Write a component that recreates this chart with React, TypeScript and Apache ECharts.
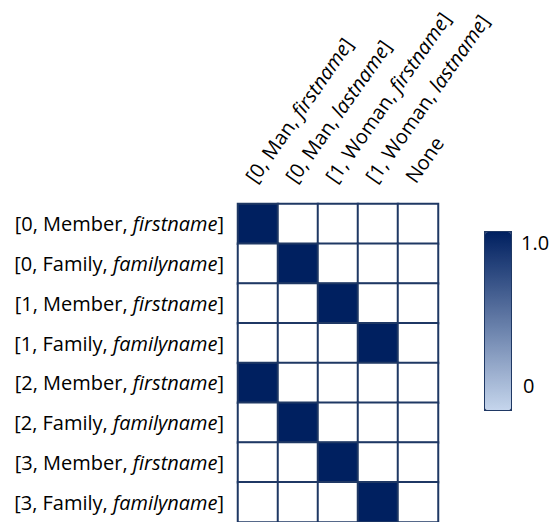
import React, { useEffect, useRef } from "react";
import * as echarts from "echarts";

const rowLabels = [
  "[0, Member, firstname]",
  "[0, Family, familyname]",
  "[1, Member, firstname]",
  "[1, Family, familyname]",
  "[2, Member, firstname]",
  "[2, Family, familyname]",
  "[3, Member, firstname]",
  "[3, Family, familyname]",
];
const colLabels = [
  "[0, Man, firstname]",
  "[0, Man, lastname]",
  "[1, Woman, firstname]",
  "[1, Woman, lastname]",
  "None",
];
// matrix[row][col]
const matrix = [
  [1, 0, 0, 0, 0],
  [0, 1, 0, 0, 0],
  [0, 0, 1, 0, 0],
  [0, 0, 0, 1, 0],
  [1, 0, 0, 0, 0],
  [0, 1, 0, 0, 0],
  [0, 0, 1, 0, 0],
  [0, 0, 0, 1, 0],
];
const scaleMin = 0;
const scaleMax = 1;
const scaleLabels = ["1.0", "0"];

const FONT = "Open Sans";
const FS = 20;
const fmt = (s: string) => s.replace(/(firstname|lastname|familyname)/, "{i|$1}");

export default function App() {
  const ref = useRef<HTMLDivElement>(null);
  useEffect(() => {
    const chart = echarts.init(ref.current!, null, { renderer: "svg" });
    const data: number[][] = [];
    matrix.forEach((row, r) => row.forEach((v, c) => data.push([c, r, v])));
    const rich = {
      i: { fontStyle: "italic", fontFamily: FONT, fontSize: FS, color: "#000" },
    };
    chart.setOption({
      animation: false,
      textStyle: { fontFamily: FONT },
      grid: { left: 238, top: 204, width: 200, height: 320, containLabel: false },
      xAxis: {
        type: "category",
        data: colLabels,
        position: "top",
        axisLine: { show: false },
        axisTick: { show: false },
        splitLine: { show: false },
        axisLabel: {
          rotate: -55,
          interval: 0,
          margin: 18,
          verticalAlign: "bottom",
          fontSize: FS,
          fontFamily: FONT,
          color: "#000",
          formatter: fmt,
          rich,
        },
      },
      yAxis: {
        type: "category",
        data: rowLabels,
        inverse: true,
        axisLine: { show: false },
        axisTick: { show: false },
        splitLine: { show: false },
        axisLabel: {
          interval: 0,
          margin: 14,
          fontSize: FS,
          fontFamily: FONT,
          color: "#000",
          formatter: fmt,
          rich,
        },
      },
      visualMap: [
        {
          type: "piecewise",
          show: false,
          seriesIndex: 0,
          pieces: [
            { value: 0, color: "#ffffff" },
            { value: 1, color: "#002060" },
          ],
        },
        {
          type: "continuous",
          show: true,
          seriesIndex: [],
          min: scaleMin,
          max: scaleMax,
          calculable: false,
          hoverLink: false,
          left: 484,
          top: 231,
          itemWidth: 26,
          itemHeight: 178,
          padding: 0,
          text: null,
          showLabel: false,
          borderColor: "#1F3864",
          borderWidth: 2,
          inRange: { color: ["#C5D5EC", "#002060"] },
        },
      ],
      graphic: [
        {
          type: "text",
          left: 521,
          top: 232,
          style: { text: scaleLabels[0], font: `${FS}px ${FONT}`, fill: "#000" },
        },
        {
          type: "text",
          left: 523,
          top: 375,
          style: { text: scaleLabels[1], font: `${FS}px ${FONT}`, fill: "#000" },
        },
      ],
      series: [
        {
          type: "heatmap",
          data,
          itemStyle: { borderColor: "#1F3864", borderWidth: 2 },
          emphasis: { disabled: true },
        },
      ],
    });
    return () => chart.dispose();
  }, []);
  return (
    <div
      ref={ref}
      style={{ position: "absolute", left: 0, top: 0, width: 552, height: 522 }}
    />
  );
}
